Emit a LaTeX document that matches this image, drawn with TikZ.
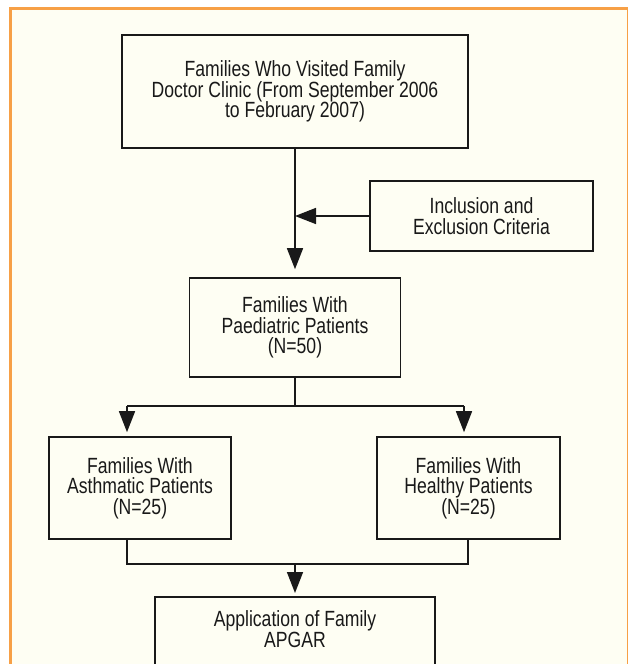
\documentclass[tikz,border=0pt]{standalone}
\usepackage{fontspec}
\setmainfont{Liberation Sans}[FakeStretch=0.8]
\usetikzlibrary{arrows.meta,calc}
\definecolor{paper}{RGB}{254,254,243}
\definecolor{frameorange}{RGB}{247,160,70}
\definecolor{ink}{RGB}{25,25,25}
\tikzset{
  box/.style={draw=ink, line width=1.6pt, fill=paper, align=center, text=ink,
    inner sep=2pt, font=\fontsize{22}{20.7}\selectfont},
  lbl/.style={align=center, text=ink, inner sep=0pt, font=\fontsize{22}{20.7}\selectfont},
  link/.style={draw=ink, line width=1.5pt},
  arr/.style={link, -{Triangle[length=21pt,width=16pt]}, shorten >=4pt}
}

\begin{document}
\begin{tikzpicture}[x=1pt,y=-1pt]
			%%%%% START %%%%%
			\useasboundingbox (0,0) rectangle (628,664);
			\clip (0,0) rectangle (628,664);
			\fill[white] (0,0) rectangle (628,664);
			\fill[paper] (10,8) rectangle (629,680);
			\draw[frameorange, line width=3pt] (10.5,690) -- (10.5,8.5) -- (628.5,8.5) -- (628.5,690);
			
			\node[box, minimum width=346pt, minimum height=113pt] (visit) at (295,91.5)
				{Families Who Visited Family\\Doctor Clinic (From September 2006\\to February 2007)};
			\node[box, minimum width=223pt, minimum height=70pt] (criteria) at (481.5,216)
				{Inclusion and\\Exclusion Criteria};
			\node[box, minimum width=211pt, minimum height=99pt] (paed) at (295,327.5)
				{Families With\\Paediatric Patients\\(N=50)};
			
			\node[box, minimum width=182pt, minimum height=102pt] (asthma) at (140,488)
				{Families With\\Asthmatic Patients\\(N=25)};
			\node[box, minimum width=183pt, minimum height=102pt] (healthy) at (468.5,488)
				{Families With\\Healthy Patients\\(N=25)};
			
			\node[box, anchor=north, minimum width=280pt, minimum height=110pt] (apgar) at (295,596) {};
			\node[lbl] (apgartext) at ([yshift=-33pt]apgar.north) {Application of Family\\APGAR};
			
			% top part
			\draw[arr, shorten >=8pt] (visit.south) -- (paed.north);
			\coordinate (join) at (criteria.west -| visit.south);
			\draw[arr, shorten >=0pt] (criteria.west) -- (join);
			
			% split
			\coordinate (split) at (295,406);
			\coordinate (splitL) at (127,406);
			\coordinate (splitR) at (464,406);
			\draw[link] (paed.south) -- (split);
			\draw[link] (splitL) -- (splitR);
			\draw[arr] (splitL) -- (splitL |- asthma.north);
			\draw[arr] (splitR) -- (splitR |- healthy.north);
			
			% merge
			\coordinate (mergeL) at (127,564);
			\coordinate (mergeR) at (468,564);
			\coordinate (merge) at (295,564);
			\draw[link] (mergeL |- asthma.south) -- (mergeL) -- (mergeR) -- (mergeR |- healthy.south);
			\draw[arr, shorten >=3pt] (merge) -- (apgar.north);
			%%%%% END %%%%%
\end{tikzpicture}
\end{document}
